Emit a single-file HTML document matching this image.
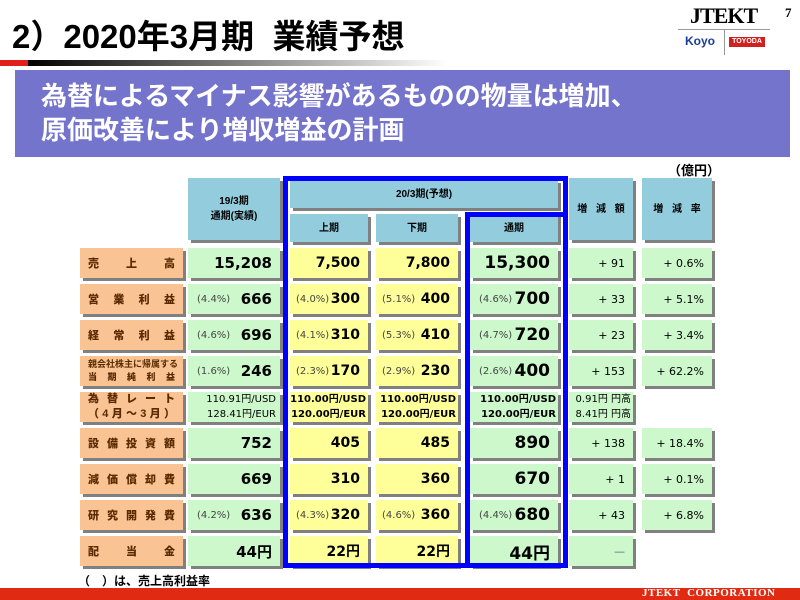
<!DOCTYPE html>
<html><head><meta charset="utf-8"><style>
*{margin:0;padding:0;box-sizing:border-box}
body{width:800px;height:600px;position:relative;background:#fff;overflow:hidden;font-family:"Liberation Sans","Noto Sans CJK JP",sans-serif;color:#000}
.a{position:absolute}
.c{position:absolute;height:30px;box-shadow:3px 3px 0 #808080;display:flex;align-items:center;justify-content:flex-end;padding-right:8px;padding-left:9px;font-family:"DejaVu Sans","Noto Sans CJK JP",sans-serif;font-weight:bold;font-size:15px;white-space:nowrap}
.y{padding-left:6px;font-size:14px}
.g{background:#ccf8cc}.y{background:#ffff99}.o{background:#fac394;justify-content:space-between;padding:0 8px;font-size:11px;color:#5a2a00;font-family:"Liberation Sans","Noto Sans CJK JP",sans-serif}
.h{position:absolute;background:#93cddd;box-shadow:3px 3px 0 #808080;display:flex;align-items:center;justify-content:center;font-size:10px;font-weight:bold;text-align:center;line-height:15px}
.p{font-weight:normal;font-size:10px;color:#444;margin-right:auto}
.r{font-weight:normal;font-size:11px}
.fx{flex-direction:column;align-items:flex-end;justify-content:center;font-size:10px;line-height:15px}
.o2{background:#fac394;font-size:9px;color:#5a2a00;padding:2px 8px;flex-direction:column;align-items:stretch;justify-content:center;line-height:13px;font-weight:bold;font-family:"Liberation Sans","Noto Sans CJK JP",sans-serif}
.o2 span{display:flex;justify-content:space-between}
</style></head><body>
<div class="a" style="left:12px;top:10px;font-size:33px;font-weight:bold;letter-spacing:0px">2）2020年3月期&nbsp;&nbsp;業績予想</div>
<div class="a" style="left:0;top:60px;width:28px;height:6px;background:#e0201a"></div>
<div class="a" style="left:28px;top:60px;width:420px;height:6px;background:linear-gradient(90deg,#000,#fff)"></div>
<div class="a" style="left:690px;top:3px;font-family:'Liberation Serif',serif;font-weight:bold;font-size:22px;letter-spacing:-1px">JTEKT</div>
<div class="a" style="left:678px;top:29px;width:92px;height:1px;background:#999"></div>
<div class="a" style="left:724px;top:29px;width:1px;height:26px;background:#999"></div>
<div class="a" style="left:685px;top:34px;font-size:12px;font-weight:bold;color:#1a3b9a">Koyo</div>
<div class="a" style="left:729px;top:37px;width:36px;height:10px;background:#d02020;color:#fff;font-size:7px;font-weight:bold;text-align:center;line-height:10px">TOYODA</div>
<div class="a" style="left:785px;top:5px;font-family:'Liberation Serif',serif;font-weight:bold;font-size:13px">7</div>
<div class="a" style="left:15px;top:70px;width:775px;height:87px;background:#7474cc;color:#fff;font-weight:bold;font-size:26px;line-height:34px;padding:9px 0 0 26px;white-space:nowrap">為替によるマイナス影響があるものの物量は増加、<br>原価改善により増収増益の計画</div>
<div class="a" style="left:668px;top:160px;font-size:13px;font-weight:bold">（億円）</div>

<div class="h" style="left:188px;top:178px;width:92px;height:62px">19/3期<br>通期(実績)</div>
<div class="h" style="left:290px;top:180px;width:268px;height:28px">20/3期(予想)</div>
<div class="h" style="left:290px;top:214px;width:78px;height:28px">上期</div>
<div class="h" style="left:376px;top:214px;width:82px;height:28px">下期</div>
<div class="h" style="left:470px;top:214px;width:88px;height:28px">通期</div>
<div class="h" style="left:569px;top:178px;width:64px;height:62px;word-spacing:6px">増 減 額</div>
<div class="h" style="left:642px;top:178px;width:70px;height:62px;word-spacing:6px">増 減 率</div>

<div class="c o" style="left:80px;top:248px;width:103px"><b>売</b><b>上</b><b>高</b></div>
<div class="c g" style="left:188px;top:248px;width:92px">15,208</div>
<div class="c y" style="left:290px;top:248px;width:78px">7,500</div>
<div class="c y" style="left:376px;top:248px;width:82px">7,800</div>
<div class="c g" style="left:470px;top:248px;width:88px;font-size:17px">15,300</div>
<div class="c g r" style="left:569px;top:248px;width:64px">+ 91</div>
<div class="c g r" style="left:642px;top:248px;width:70px">+ 0.6%</div>

<div class="c o" style="left:80px;top:284px;width:103px"><b>営</b><b>業</b><b>利</b><b>益</b></div>
<div class="c g" style="left:188px;top:284px;width:92px"><span class="p">(4.4%)</span>666</div>
<div class="c y" style="left:290px;top:284px;width:78px"><span class="p">(4.0%)</span>300</div>
<div class="c y" style="left:376px;top:284px;width:82px"><span class="p">(5.1%)</span>400</div>
<div class="c g" style="left:470px;top:284px;width:88px;font-size:17px"><span class="p">(4.6%)</span>700</div>
<div class="c g r" style="left:569px;top:284px;width:64px">+ 33</div>
<div class="c g r" style="left:642px;top:284px;width:70px">+ 5.1%</div>

<div class="c o" style="left:80px;top:320px;width:103px"><b>経</b><b>常</b><b>利</b><b>益</b></div>
<div class="c g" style="left:188px;top:320px;width:92px"><span class="p">(4.6%)</span>696</div>
<div class="c y" style="left:290px;top:320px;width:78px"><span class="p">(4.1%)</span>310</div>
<div class="c y" style="left:376px;top:320px;width:82px"><span class="p">(5.3%)</span>410</div>
<div class="c g" style="left:470px;top:320px;width:88px;font-size:17px"><span class="p">(4.7%)</span>720</div>
<div class="c g r" style="left:569px;top:320px;width:64px">+ 23</div>
<div class="c g r" style="left:642px;top:320px;width:70px">+ 3.4%</div>

<div class="c o2" style="left:80px;top:356px;width:103px;padding-right:8px"><span>親会社株主に帰属する</span><span><b>当</b><b>期</b><b>純</b><b>利</b><b>益</b></span></div>
<div class="c g" style="left:188px;top:356px;width:92px"><span class="p">(1.6%)</span>246</div>
<div class="c y" style="left:290px;top:356px;width:78px"><span class="p">(2.3%)</span>170</div>
<div class="c y" style="left:376px;top:356px;width:82px"><span class="p">(2.9%)</span>230</div>
<div class="c g" style="left:470px;top:356px;width:88px;font-size:17px"><span class="p">(2.6%)</span>400</div>
<div class="c g r" style="left:569px;top:356px;width:64px">+ 153</div>
<div class="c g r" style="left:642px;top:356px;width:70px">+ 62.2%</div>

<div class="c o2" style="left:80px;top:392px;width:103px;padding-right:8px;font-size:11px;line-height:15px"><span><b>為</b><b>替</b><b>レ</b><b>ー</b><b>ト</b></span><span><b>（</b><b>4</b><b>月</b><b>～</b><b>3</b><b>月</b><b>）</b></span></div>
<div class="c g fx" style="left:188px;top:392px;width:92px;font-weight:normal;padding-right:4px"><span>110.91円/USD</span><span>128.41円/EUR</span></div>
<div class="c y fx" style="left:290px;top:392px;width:78px;padding:0 2px;font-size:10px"><span>110.00円/USD</span><span>120.00円/EUR</span></div>
<div class="c y fx" style="left:376px;top:392px;width:82px;padding:0 2px;font-size:10px"><span>110.00円/USD</span><span>120.00円/EUR</span></div>
<div class="c g fx" style="left:470px;top:392px;width:88px;padding:0 2px"><span>110.00円/USD</span><span>120.00円/EUR</span></div>
<div class="c g fx" style="left:569px;top:392px;width:64px;font-weight:normal;padding:0 2px"><span>0.91円 円高</span><span>8.41円 円高</span></div>

<div class="c o" style="left:80px;top:428px;width:103px"><b>設</b><b>備</b><b>投</b><b>資</b><b>額</b></div>
<div class="c g" style="left:188px;top:428px;width:92px">752</div>
<div class="c y" style="left:290px;top:428px;width:78px">405</div>
<div class="c y" style="left:376px;top:428px;width:82px">485</div>
<div class="c g" style="left:470px;top:428px;width:88px;font-size:17px">890</div>
<div class="c g r" style="left:569px;top:428px;width:64px">+ 138</div>
<div class="c g r" style="left:642px;top:428px;width:70px">+ 18.4%</div>

<div class="c o" style="left:80px;top:464px;width:103px"><b>減</b><b>価</b><b>償</b><b>却</b><b>費</b></div>
<div class="c g" style="left:188px;top:464px;width:92px">669</div>
<div class="c y" style="left:290px;top:464px;width:78px">310</div>
<div class="c y" style="left:376px;top:464px;width:82px">360</div>
<div class="c g" style="left:470px;top:464px;width:88px;font-size:17px">670</div>
<div class="c g r" style="left:569px;top:464px;width:64px">+ 1</div>
<div class="c g r" style="left:642px;top:464px;width:70px">+ 0.1%</div>

<div class="c o" style="left:80px;top:500px;width:103px"><b>研</b><b>究</b><b>開</b><b>発</b><b>費</b></div>
<div class="c g" style="left:188px;top:500px;width:92px"><span class="p">(4.2%)</span>636</div>
<div class="c y" style="left:290px;top:500px;width:78px"><span class="p">(4.3%)</span>320</div>
<div class="c y" style="left:376px;top:500px;width:82px"><span class="p">(4.6%)</span>360</div>
<div class="c g" style="left:470px;top:500px;width:88px;font-size:17px"><span class="p">(4.4%)</span>680</div>
<div class="c g r" style="left:569px;top:500px;width:64px">+ 43</div>
<div class="c g r" style="left:642px;top:500px;width:70px">+ 6.8%</div>

<div class="c o" style="left:80px;top:536px;width:103px"><b>配</b><b>当</b><b>金</b></div>
<div class="c g" style="left:188px;top:536px;width:92px">44円</div>
<div class="c y" style="left:290px;top:536px;width:78px">22円</div>
<div class="c y" style="left:376px;top:536px;width:82px">22円</div>
<div class="c g" style="left:470px;top:536px;width:88px;font-size:17px">44円</div>
<div class="c g r" style="left:569px;top:536px;width:64px;color:#666">—</div>

<div class="a" style="left:283px;top:176px;width:285px;height:392px;border:5px solid #0000ff"></div>
<div class="a" style="left:465px;top:212px;width:103px;height:356px;border:5px solid #0000ff"></div>

<div class="a" style="left:78px;top:572px;font-size:12px;font-weight:bold">（　）は、売上高利益率</div>
<div class="a" style="left:0;top:588px;width:800px;height:12px;background:#e02a12"></div>
<div class="a" style="left:642px;top:587px;font-family:'Liberation Serif',serif;font-weight:bold;font-size:11px;color:#fff;letter-spacing:0.5px">JTEKT&nbsp;&nbsp;CORPORATION</div>
</body></html>
